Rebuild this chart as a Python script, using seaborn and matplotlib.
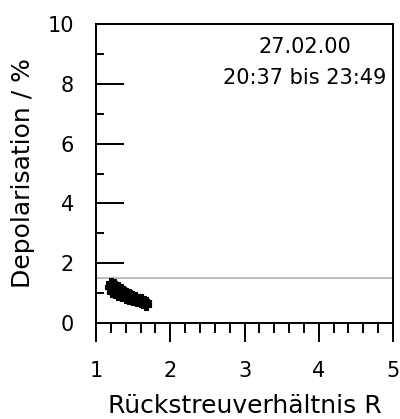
import matplotlib
matplotlib.use("Agg")
import matplotlib.pyplot as plt
import seaborn as sns
import pandas as pd
from matplotlib.ticker import MultipleLocator

# data
R_values = [1.19, 1.20, 1.21, 1.22, 1.22, 1.23, 1.24, 1.25, 1.26, 1.27, 1.28, 1.29,
            1.30, 1.31, 1.32, 1.33, 1.34, 1.35, 1.36, 1.37, 1.38, 1.40, 1.41, 1.42,
            1.44, 1.45, 1.46, 1.48, 1.49, 1.50, 1.52, 1.53, 1.55, 1.56, 1.58, 1.60,
            1.61, 1.63, 1.64, 1.66, 1.67, 1.68, 1.25, 1.30, 1.35, 1.40, 1.45, 1.50]
depol_values = [1.20, 1.35, 1.10, 1.28, 1.05, 1.22, 1.30, 1.12, 1.25, 1.02, 1.18, 1.08,
                1.20, 0.98, 1.12, 1.05, 1.15, 0.95, 1.08, 1.00, 1.05, 0.92, 1.00, 0.88,
                0.98, 0.85, 0.95, 0.82, 0.92, 0.85, 0.80, 0.88, 0.75, 0.82, 0.78, 0.72,
                0.80, 0.68, 0.75, 0.70, 0.62, 0.72, 1.02, 0.95, 0.90, 0.85, 0.80, 0.76]
ref_line = 1.5
x_ticks = [1, 2, 3, 4, 5]
y_ticks = [0, 2, 4, 6, 8, 10]
annot_date = "27.02.00"
annot_time = "20:37 bis 23:49"

df = pd.DataFrame({"R": R_values, "D": depol_values})

sns.set_theme(style="white")
plt.rcParams["font.family"] = ["DejaVu Sans"]
plt.rcParams["text.color"] = "black"
plt.rcParams["axes.labelcolor"] = "black"
plt.rcParams["xtick.color"] = "black"
plt.rcParams["ytick.color"] = "black"

fig = plt.figure(figsize=(4.0, 4.19), dpi=100)
ax = fig.add_axes([0.24, 0.229, 0.7425, 0.7136])

ax.axhline(ref_line, color="#b0b0b0", lw=1.2, zorder=1)
sns.scatterplot(data=df, x="R", y="D", ax=ax, color="black", marker="P",
                s=55, edgecolor="black", linewidth=0.8, zorder=3, legend=False)

ax.set_xlim(1, 5)
ax.set_ylim(0, 10)
ax.set_xticks(x_ticks)
ax.set_yticks(y_ticks)
ax.xaxis.set_minor_locator(MultipleLocator(0.2))
ax.yaxis.set_minor_locator(MultipleLocator(1))

ax.tick_params(axis="x", which="major", direction="out", length=13.5, width=1.4,
               labelsize=15, pad=14, bottom=True)
ax.tick_params(axis="x", which="minor", direction="out", length=7, width=1.4, bottom=True)
ax.tick_params(axis="y", which="major", direction="in", length=20, width=1.4,
               labelsize=15, pad=16, left=True)
ax.tick_params(axis="y", which="minor", direction="in", length=6, width=1.4, left=True)

for s in ax.spines.values():
    s.set_color("black")
    s.set_linewidth(1.4)

ax.set_xlabel("Rückstreuverhältnis R", fontsize=18, labelpad=9)
ax.set_ylabel("Depolarisation / %", fontsize=18, labelpad=9)

ax.text(3.81, 9.23, annot_date, ha="center", va="center", fontsize=15)
ax.text(3.81, 8.19, annot_time, ha="center", va="center", fontsize=15)

fig.savefig("out.png", dpi=100)
